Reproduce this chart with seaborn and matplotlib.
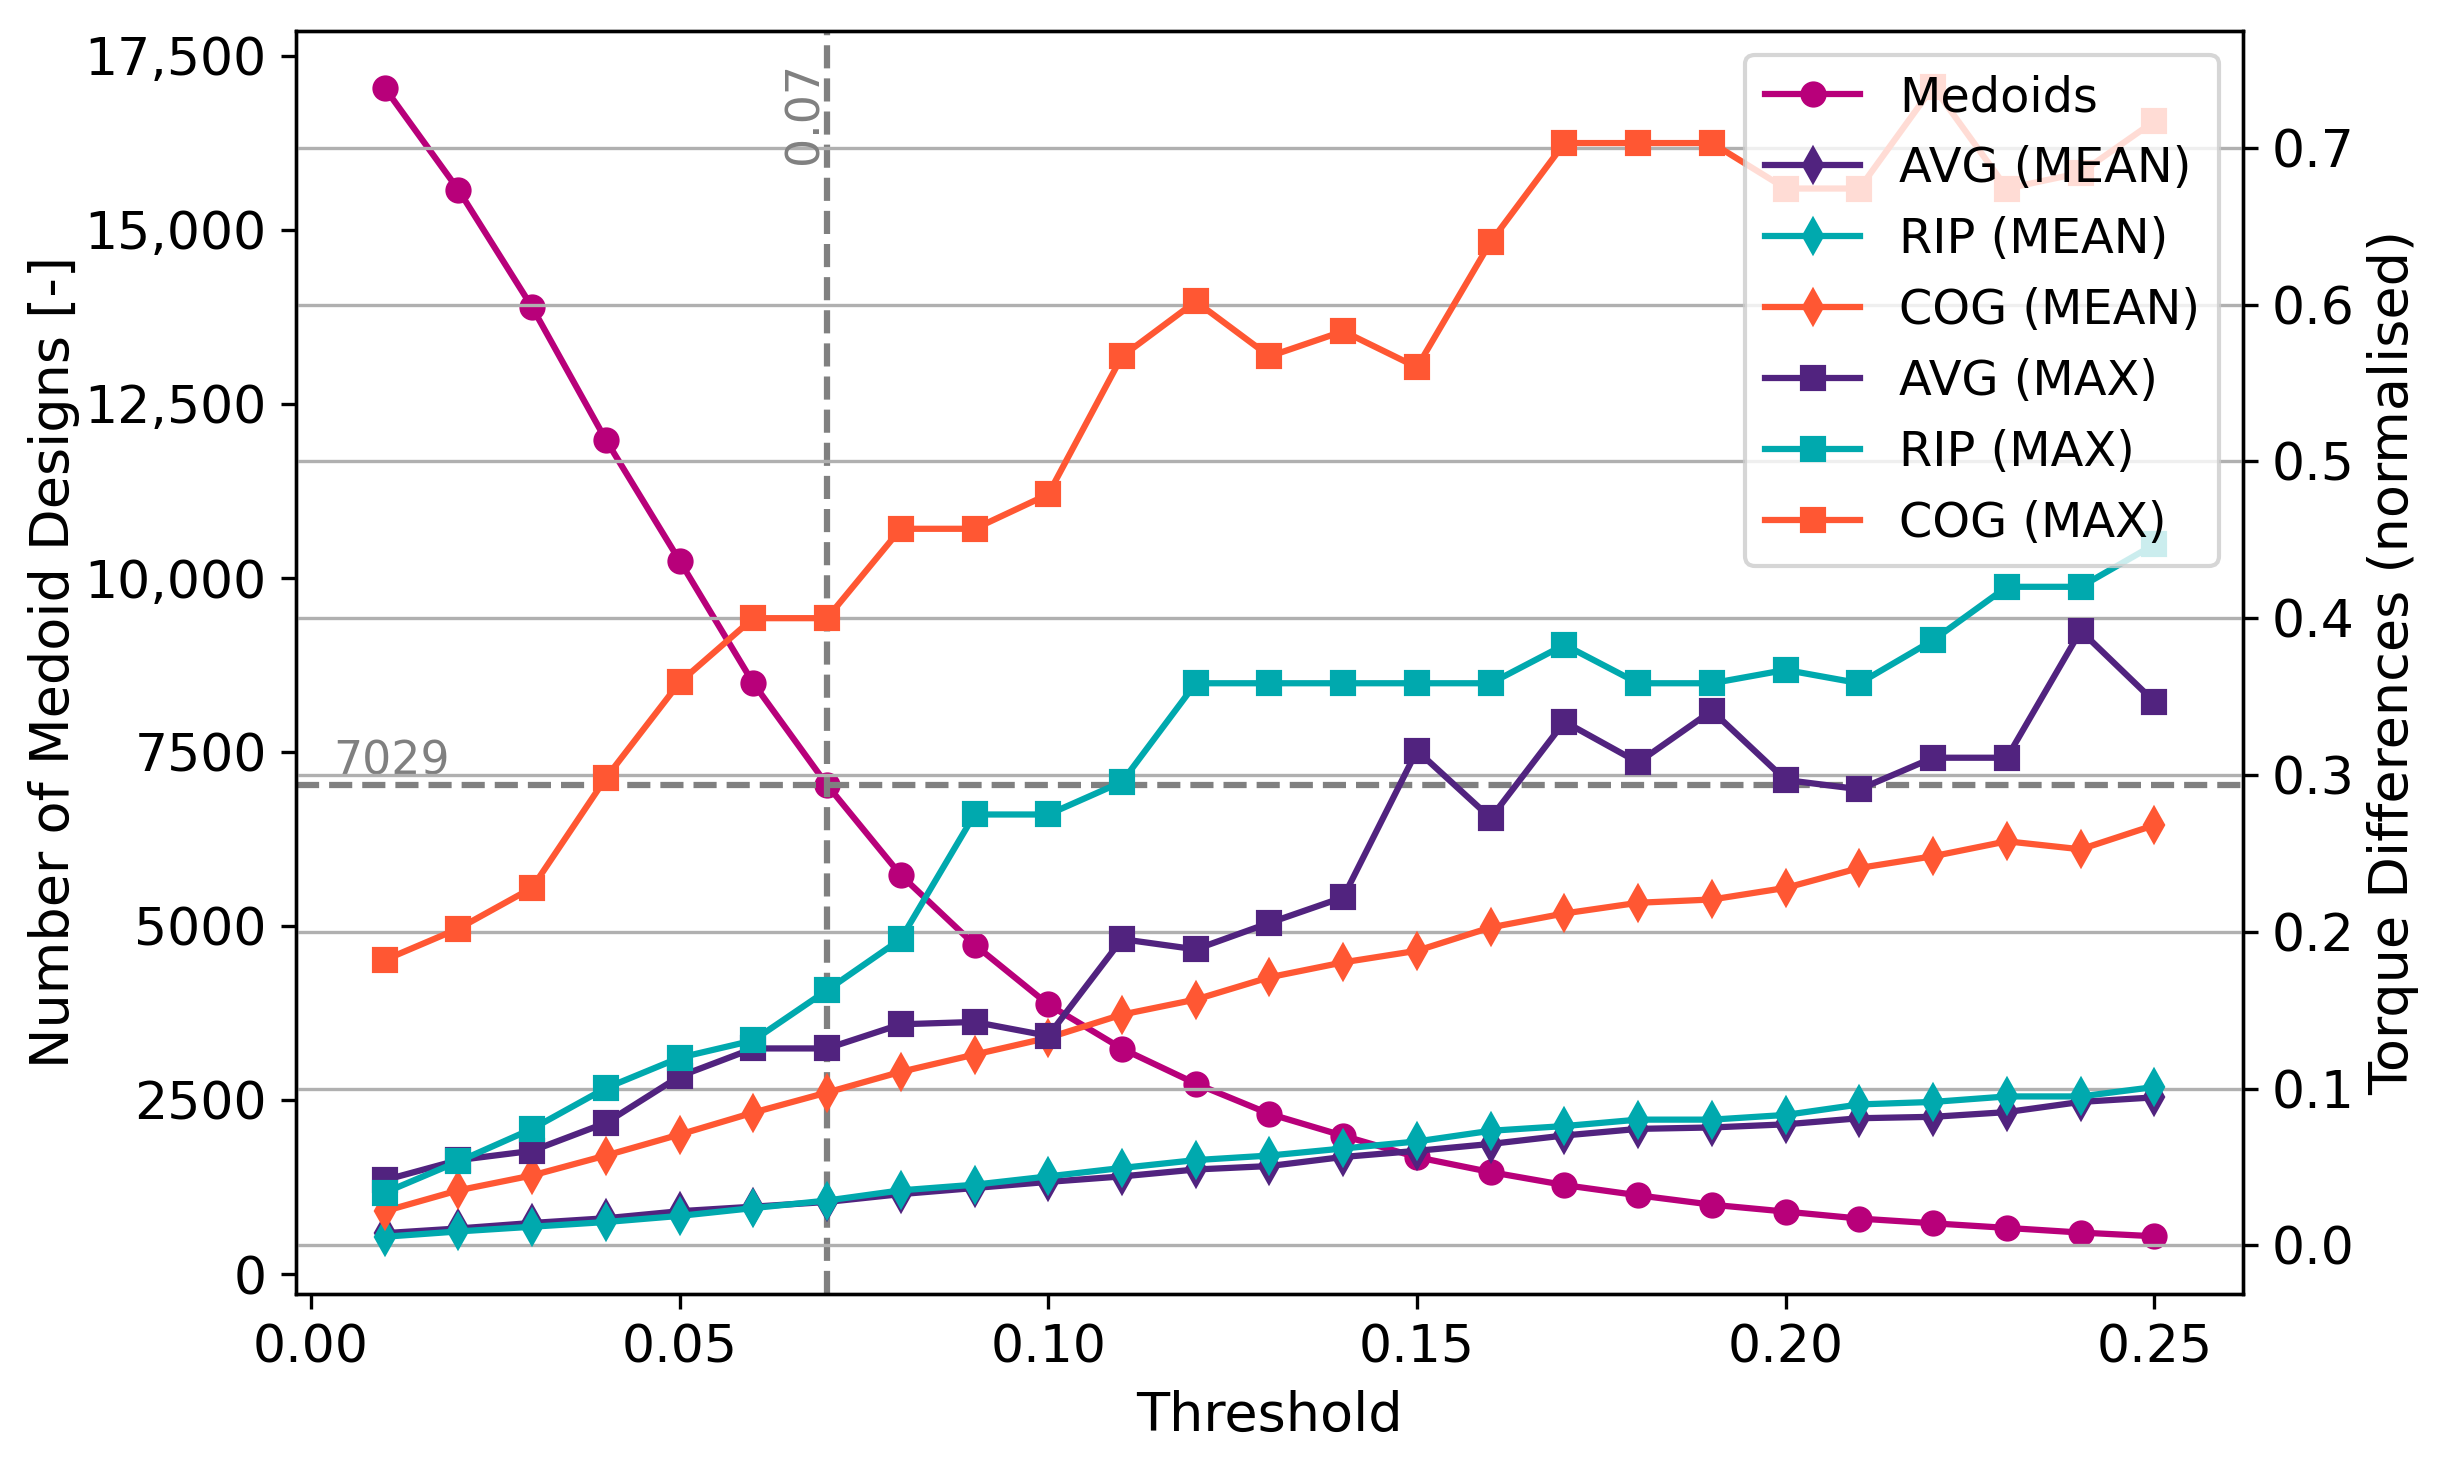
import matplotlib
matplotlib.use("Agg")
import matplotlib.pyplot as plt
from matplotlib.ticker import FuncFormatter, FixedLocator
import seaborn as sns
import pandas as pd

# ---------------- data ----------------
thresholds = [0.01, 0.02, 0.03, 0.04, 0.05, 0.06, 0.07, 0.08, 0.09, 0.10,
              0.11, 0.12, 0.13, 0.14, 0.15, 0.16, 0.17, 0.18, 0.19, 0.20,
              0.21, 0.22, 0.23, 0.24, 0.25]

medoids = [17040, 15575, 13890, 11985, 10250, 8490, 7029, 5735, 4735, 3877,
           3242, 2741, 2306, 1992, 1684, 1470, 1284, 1137, 1002, 903,
           803, 735, 669, 602, 549]

avg_mean = [0.0078, 0.0108, 0.0143, 0.0173, 0.0218, 0.0247, 0.0277, 0.0327, 0.0366, 0.0405,
            0.0440, 0.0484, 0.0506, 0.0564, 0.0603, 0.0647, 0.0701, 0.0743, 0.0752, 0.0772,
            0.0811, 0.0820, 0.0850, 0.0915, 0.0944]
rip_mean = [0.0055, 0.0089, 0.0119, 0.0149, 0.0188, 0.0238, 0.0286, 0.0351, 0.0387, 0.0440,
            0.0494, 0.0544, 0.0573, 0.0618, 0.0663, 0.0731, 0.0761, 0.0802, 0.0802, 0.0832,
            0.0899, 0.0915, 0.0950, 0.0950, 0.1010]
cog_mean = [0.0218, 0.0351, 0.0446, 0.0573, 0.0707, 0.0847, 0.0975, 0.1107, 0.1217, 0.1324,
            0.1472, 0.1568, 0.1710, 0.1805, 0.1879, 0.2028, 0.2117, 0.2185, 0.2206, 0.2280,
            0.2407, 0.2482, 0.2577, 0.2526, 0.2680]
avg_max = [0.0416, 0.0544, 0.0603, 0.0781, 0.1078, 0.1256, 0.1256, 0.1410, 0.1425, 0.1336,
           0.1953, 0.1888, 0.2057, 0.2220, 0.3156, 0.2725, 0.3340, 0.3080, 0.3410, 0.2968,
           0.2909, 0.3110, 0.3110, 0.3920, 0.3467]
rip_max = [0.0336, 0.0535, 0.0743, 0.1003, 0.1197, 0.1307, 0.1627, 0.1953, 0.2748, 0.2748,
           0.2956, 0.3585, 0.3585, 0.3585, 0.3585, 0.3585, 0.3830, 0.3585, 0.3585, 0.3670,
           0.3585, 0.3860, 0.4200, 0.4200, 0.4470]
cog_max = [0.1820, 0.2020, 0.2280, 0.2980, 0.3590, 0.4000, 0.4000, 0.4570, 0.4570, 0.4790,
           0.5670, 0.6020, 0.5670, 0.5830, 0.5600, 0.6400, 0.7030, 0.7030, 0.7030, 0.6740,
           0.6740, 0.7390, 0.6740, 0.6840, 0.7170]

series_names = ["AVG (MEAN)", "RIP (MEAN)", "COG (MEAN)", "AVG (MAX)", "RIP (MAX)", "COG (MAX)"]
series_values = [avg_mean, rip_mean, cog_mean, avg_max, rip_max, cog_max]

left_ticks = [0, 2500, 5000, 7500, 10000, 12500, 15000, 17500]
right_ticks = [0.0, 0.1, 0.2, 0.3, 0.4, 0.5, 0.6, 0.7]
x_ticks = [0.00, 0.05, 0.10, 0.15, 0.20, 0.25]
threshold_sel = 0.07
medoid_sel = 7029

# ---------------- style ----------------
C_MED = "#b8007a"
C_AVG = "#51237f"
C_RIP = "#00a9ae"
C_COG = "#ff5733"
series_colors = [C_AVG, C_RIP, C_COG, C_AVG, C_RIP, C_COG]
series_markers = ["d", "d", "d", "s", "s", "s"]
MS = 5.3

plt.rcParams["font.family"] = ["DejaVu Sans"]

fig = plt.figure(figsize=(8.13, 4.8667), dpi=300)
ax = fig.add_axes([0.1214, 0.1137, 0.9196 - 0.1214, 0.9788 - 0.1137])
ax2 = ax.twinx()

df_med = pd.DataFrame({"Threshold": thresholds, "Medoids": medoids})
sns.lineplot(data=df_med, x="Threshold", y="Medoids", ax=ax, color=C_MED,
             marker="o", markersize=MS, markeredgecolor=C_MED, markeredgewidth=1,
             linewidth=1.5, label="Medoids", legend=False)

for name, vals, col, mk in zip(series_names, series_values, series_colors, series_markers):
    d = pd.DataFrame({"Threshold": thresholds, "Value": vals})
    sns.lineplot(data=d, x="Threshold", y="Value", ax=ax2, color=col,
                 marker=mk, markersize=MS, markeredgecolor=col, markeredgewidth=1,
                 linewidth=1.5, label=name, legend=False)

# reference lines
ax.axhline(medoid_sel, color="gray", linestyle="--", linewidth=1.5)
ax.axvline(threshold_sel, color="gray", linestyle="--", linewidth=1.5)
ax.text(0.003, medoid_sel, f"{medoid_sel}", color="gray", fontsize=11,
        ha="left", va="bottom")
ax2.text(threshold_sel, 0.755, f"{threshold_sel}", color="gray", fontsize=11,
         rotation=90, ha="right", va="top")

# axes limits / ticks
ax.set_xlim(-0.002, 0.262)
ax.set_ylim(-280, 17855)
ax2.set_ylim(-0.031, 0.7745)

ax.xaxis.set_major_locator(FixedLocator(x_ticks))
ax.xaxis.set_major_formatter(FuncFormatter(lambda v, p: f"{v:.2f}"))
ax.yaxis.set_major_locator(FixedLocator(left_ticks))
ax.yaxis.set_major_formatter(FuncFormatter(
    lambda v, p: f"{v:,.0f}" if v >= 10000 else f"{v:.0f}"))
ax2.yaxis.set_major_locator(FixedLocator(right_ticks))
ax2.yaxis.set_major_formatter(FuncFormatter(lambda v, p: f"{v:.1f}"))

ax.tick_params(labelsize=12.5)
ax2.tick_params(labelsize=12.5)
ax2.grid(True, axis="y", color="#b0b0b0", linewidth=0.8)
ax.grid(False)

ax.set_xlabel("Threshold", fontsize=13)
ax.set_ylabel("Number of Medoid Designs [-]", fontsize=13, labelpad=1)
ax2.set_ylabel("Torque Differences (normalised)", fontsize=13, labelpad=3)

h1, l1 = ax.get_legend_handles_labels()
h2, l2 = ax2.get_legend_handles_labels()
for a in (ax, ax2):
    if a.get_legend() is not None:
        a.get_legend().remove()
# figure-level legend, anchored to the upper-right corner of the axes
fig.legend(h1 + h2, l1 + l2, loc="upper right", bbox_to_anchor=(1, 1),
           bbox_transform=ax2.transAxes, borderaxespad=0.5, fontsize=11.5,
           facecolor="white", framealpha=0.8, edgecolor="0.8")

fig.savefig("out.png", dpi=300)
